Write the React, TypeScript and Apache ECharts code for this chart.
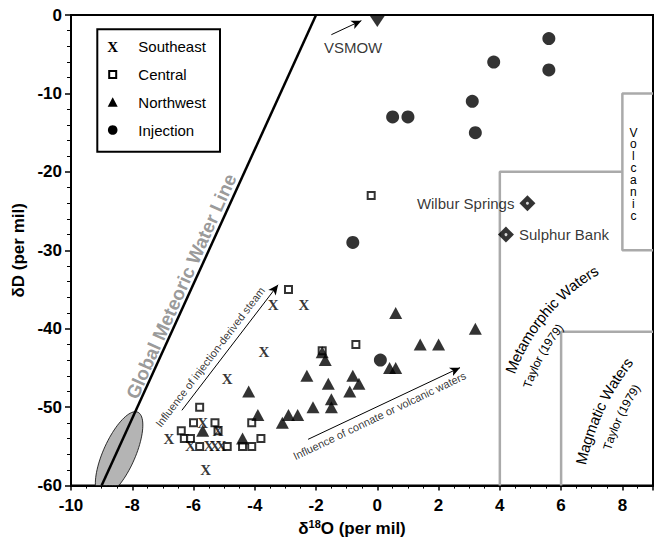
import { useEffect, useRef } from 'react';
import * as echarts from 'echarts';

// ---- data (delta18O, deltaD) ----
const southeast: number[][] = [
  [-3.4, -37], [-2.4, -37], [-3.7, -43], [-4.9, -46.4], [-5.7, -52], [-5.2, -53],
  [-6.8, -54], [-6.1, -55], [-5.5, -55], [-5.3, -55], [-5.1, -55], [-5.6, -58],
];
const central: number[][] = [
  [-2.9, -35], [-0.2, -23], [-0.7, -42], [-1.8, -42.8], [-5.8, -50], [-6.0, -52],
  [-5.3, -52], [-4.1, -52], [-5.2, -53], [-6.4, -53], [-6.3, -54], [-6.1, -54],
  [-5.8, -55], [-4.9, -55], [-4.4, -55], [-4.1, -55], [-3.8, -54],
];
const northwest: number[][] = [
  [0.6, -38], [3.2, -40], [1.4, -42], [2.0, -42], [-1.8, -43], [-1.7, -44],
  [-2.3, -46], [-0.8, -46], [-0.6, -47], [-0.9, -48], [-1.6, -47], [0.4, -45],
  [0.6, -45], [-1.5, -49], [-1.5, -50], [-2.1, -50], [-2.9, -51], [-2.6, -51],
  [-3.1, -52], [-4.2, -48], [-3.9, -51], [-5.7, -53], [-4.4, -54],
];
const injection: number[][] = [
  [5.6, -3], [3.8, -6], [5.6, -7], [3.1, -11], [0.5, -13], [1.0, -13],
  [3.2, -15], [-0.8, -29], [0.1, -44],
];
const siteNames = ['Wilbur Springs', 'Sulphur Bank'];
const sitePoints: number[][] = [[4.9, -24], [4.2, -28]];
const vsmowPoint: number[][] = [[0, -0.75]];

// reference lines / fields
const gmwl: number[][] = [[-9, -60], [-2, 0]];
const gmwlEllipseCenter: number[][] = [[-8.43, -56.0]];
const metamorphicBox: number[][] = [[4, -60], [4, -20], [8, -20]];
const volcanicBox: number[][] = [[9, -10], [8, -10], [8, -30], [9, -30]];
const magmaticBox: number[][] = [[6, -60], [6, -40.4], [9, -40.4]];
const arrowSteam: number[][] = [[-6.38, -50.4], [-3.24, -34.4]];
const arrowConnate: number[][] = [[-2.26, -54.1], [2.7, -44.96]];
const arrowVsmow: number[][] = [[-1.5, -2.51], [-0.52, -0.72]];

const legendNames = ['Southeast', 'Central', 'Northwest', 'Injection'];

const FONT = 'Liberation Sans, Arial, Helvetica, sans-serif';
const SERIF = 'Liberation Serif, Times New Roman, serif';

const notes = [
  { text: 'VSMOW', at: [-0.79, -4.2], size: 15, rotate: 0, color: '#000', weight: 'normal' },
  { text: 'Global Meteoric Water Line', at: [-6.4, -34.6], size: 19, rotate: 65.9, color: '#808080', weight: 'bold' },
  { text: 'Influence of injection-derived steam', at: [-5.46, -43.6], size: 11, rotate: 52.7, color: '#000', weight: 'normal' },
  { text: 'Influence of connate or volcanic waters', at: [0.07, -51.1], size: 11, rotate: 25.5, color: '#000', weight: 'normal' },
];

const arcs = [
  { text: 'Metamorphic Waters', center: [10.32, -54.0], r: 195, mid: -140, size: 15 },
  { text: 'Taylor (1979)', center: [10.32, -54.0], r: 174, mid: -151.3, size: 12 },
  { text: 'Magmatic Waters', center: [14.63, -63.7], r: 250, mid: -155, size: 15 },
  { text: 'Taylor (1979)', center: [14.63, -63.7], r: 228, mid: -154.5, size: 12 },
];

export default function App() {
  const ref = useRef<HTMLDivElement>(null);
  useEffect(() => {
    const chart = echarts.init(ref.current!, null, { renderer: 'svg' });
    const grayLine = { color: '#aaaaaa', width: 2.5 };
    const boxSeries = (d: number[][]) => ({
      type: 'line', data: d, symbol: 'none', silent: true, lineStyle: grayLine, z: 1,
    });
    chart.setOption({
      animation: false,
      textStyle: { fontFamily: FONT },
      grid: { left: 71, right: 3, top: 15, bottom: 49, show: true, borderColor: '#000', borderWidth: 2 },
      xAxis: {
        type: 'value', min: -10, max: 9, interval: 2,
        axisLine: { show: true, onZero: false, lineStyle: { color: '#000', width: 2 } },
        axisTick: { show: true, length: 5, lineStyle: { color: '#000', width: 1.5 } },
        minorTick: { show: true, splitNumber: 4, length: 3, lineStyle: { color: '#000', width: 1 } },
        splitLine: { show: false },
        axisLabel: { fontSize: 17, fontWeight: 'bold', color: '#000', fontFamily: FONT, margin: 11, showMaxLabel: false },
        name: '{a|δ}{b|18}{a|O (per mil)}',
        nameLocation: 'middle', nameGap: 31,
        nameTextStyle: {
          padding: [0, 20, 0, 0],
          rich: {
            a: { fontSize: 17, fontWeight: 'bold', color: '#000', fontFamily: FONT, lineHeight: 20 },
            b: { fontSize: 11, fontWeight: 'bold', color: '#000', fontFamily: FONT, verticalAlign: 'top', lineHeight: 13 },
          },
        },
      },
      yAxis: {
        type: 'value', min: -60, max: 0, interval: 10,
        axisLine: { show: true, onZero: false, lineStyle: { color: '#000', width: 2 } },
        axisTick: { show: true, length: 6, lineStyle: { color: '#000', width: 1.5 } },
        minorTick: { show: true, splitNumber: 5, length: 4, lineStyle: { color: '#000', width: 1 } },
        splitLine: { show: false },
        axisLabel: { fontSize: 17, fontWeight: 'bold', color: '#000', fontFamily: FONT, margin: 9 },
        name: 'δD (per mil)', nameLocation: 'middle', nameGap: 31,
        nameTextStyle: { fontSize: 17, fontWeight: 'bold', color: '#000', fontFamily: FONT },
      },
      series: [
        boxSeries(metamorphicBox),
        boxSeries(volcanicBox),
        boxSeries(magmaticBox),
        {
          type: 'custom', data: gmwlEllipseCenter, silent: true, z: 2,
          renderItem: (params: any, api: any) => {
            const c = api.coord([api.value(0), api.value(1)]);
            const cs = params.coordSys;
            const bottom = cs.y + cs.height;
            const a = 46, b = 16, t = (24 * Math.PI) / 180;
            const ux = Math.sin(t), uy = -Math.cos(t), vx = Math.cos(t), vy = Math.sin(t);
            const pts: number[][] = [];
            for (let i = 0; i < 90; i++) {
              const q = (i / 90) * 2 * Math.PI;
              const ca = a * Math.cos(q), sb = b * Math.sin(q);
              pts.push([c[0] + ca * ux + sb * vx, Math.min(bottom, c[1] + ca * uy + sb * vy)]);
            }
            return { type: 'polygon', shape: { points: pts }, style: { fill: '#b4b4b4', stroke: '#000', lineWidth: 0.8 } };
          },
        },
        {
          type: 'line', data: gmwl, symbol: 'none', silent: true, z: 3,
          lineStyle: { color: '#000', width: 2.5 },
          markLine: {
            silent: true, symbol: ['none', 'arrow'], symbolSize: [7, 10],
            label: { show: false },
            lineStyle: { color: '#000', width: 1, type: 'solid' },
            data: [arrowSteam, arrowConnate, arrowVsmow].map((a) => [{ coord: a[0] }, { coord: a[1] }]),
          },
        },
        {
          type: 'scatter', data: central, symbol: 'rect', symbolSize: 7, silent: true, z: 4,
          itemStyle: { color: '#fff', borderColor: '#000', borderWidth: 2 },
        },
        {
          type: 'scatter', data: southeast, symbol: 'rect', symbolSize: 1, silent: true, z: 5,
          itemStyle: { color: 'rgba(0,0,0,0)' },
          label: { show: true, formatter: 'X', position: 'inside', fontFamily: SERIF, fontWeight: 'bold', fontSize: 15, color: '#000' },
        },
        {
          type: 'scatter', data: northwest, symbol: 'triangle', symbolSize: [13, 12], silent: true, z: 6,
          itemStyle: { color: '#000' },
        },
        {
          type: 'scatter', data: injection, symbol: 'circle', symbolSize: 13, silent: true, z: 6,
          itemStyle: { color: '#000' },
        },
        {
          type: 'scatter', silent: true, z: 6, symbol: 'diamond', symbolSize: 16,
          itemStyle: { color: '#000' },
          data: sitePoints.map((p, i) => ({
            value: p, name: siteNames[i],
            label: {
              show: true, formatter: '{b}', position: i === 0 ? 'left' : 'right', distance: 5,
              fontSize: 15, color: '#000', fontFamily: FONT,
            },
          })),
        },
        {
          type: 'scatter', data: sitePoints, symbol: 'circle', symbolSize: 3, silent: true, z: 7,
          itemStyle: { color: '#fff' },
        },
        {
          type: 'scatter', data: vsmowPoint, symbol: 'triangle', symbolRotate: 180, symbolSize: [16, 12],
          silent: true, z: 7, itemStyle: { color: '#000' },
        },
        {
          type: 'scatter', symbolSize: 1, silent: true, z: 8, itemStyle: { color: 'rgba(0,0,0,0)' },
          data: notes.map((n) => ({
            value: n.at,
            label: {
              show: true, formatter: n.text, position: 'inside', rotate: n.rotate,
              fontSize: n.size, color: n.color, fontWeight: n.weight, fontFamily: FONT,
            },
          })),
        },
      ],
    });

    // ---- graphics: legend, curved field labels, "Volcanic" ----
    const px = (p: number[]) => chart.convertToPixel({ gridIndex: 0 }, p) as number[];
    const ctx = document.createElement('canvas').getContext('2d')!;
    const gfx: any[] = [];

    arcs.forEach((arc) => {
      const c = px(arc.center);
      ctx.font = `${arc.size}px "Liberation Sans"`;
      const chars = Array.from(arc.text);
      const widths = chars.map((ch) => ctx.measureText(ch).width);
      const total = widths.reduce((s, w) => s + w, 0);
      const phiMid = (arc.mid * Math.PI) / 180;
      let acc = 0;
      chars.forEach((ch, i) => {
        const s = acc + widths[i] / 2;
        acc += widths[i];
        if (ch === ' ') return;
        const phi = phiMid + (s - total / 2) / arc.r;
        gfx.push({
          type: 'text', silent: true, z: 10,
          x: c[0] + arc.r * Math.cos(phi), y: c[1] + arc.r * Math.sin(phi),
          rotation: -(phi + Math.PI / 2),
          style: {
            text: ch, fill: '#000', fontSize: arc.size, fontFamily: FONT,
            align: 'center', verticalAlign: 'middle', textAlign: 'center', textVerticalAlign: 'middle',
          },
        });
      });
    });

    // stacked "Volcanic" letters
    const vp = px([8.36, -20.3]);
    const vLetters = Array.from('Volcanic');
    vLetters.forEach((ch, i) => {
      gfx.push({
        type: 'text', silent: true, z: 10, x: vp[0], y: vp[1] + (i - (vLetters.length - 1) / 2) * 11.9,
        style: {
          text: ch, fill: '#000', fontSize: 12, lineHeight: 11, fontFamily: FONT,
          align: 'center', verticalAlign: 'middle', textAlign: 'center', textVerticalAlign: 'middle',
        },
      });
    });

    // legend
    const lx = 112.7, tx = 138.3;
    const rows = [46.7, 74.5, 102.3, 130];
    gfx.push({
      type: 'rect', silent: true, z: 20,
      shape: { x: 97.3, y: 29.3, width: 122.7, height: 122.4 },
      style: { fill: '#fff', stroke: '#000', lineWidth: 2 },
    });
    gfx.push({
      type: 'text', silent: true, z: 21, x: lx, y: rows[0],
      style: { text: 'X', fill: '#000', fontSize: 15, fontWeight: 'bold', fontFamily: SERIF, align: 'center', verticalAlign: 'middle', textAlign: 'center', textVerticalAlign: 'middle' },
    });
    gfx.push({
      type: 'rect', silent: true, z: 21,
      shape: { x: lx - 3.5, y: rows[1] - 3.5, width: 7, height: 7 },
      style: { fill: '#fff', stroke: '#000', lineWidth: 2 },
    });
    gfx.push({
      type: 'polygon', silent: true, z: 21,
      shape: { points: [[lx - 5, rows[2] + 4.5], [lx + 5, rows[2] + 4.5], [lx, rows[2] - 5]] },
      style: { fill: '#000' },
    });
    gfx.push({
      type: 'circle', silent: true, z: 21,
      shape: { cx: lx, cy: rows[3], r: 4.8 },
      style: { fill: '#000' },
    });
    legendNames.forEach((n, i) => {
      gfx.push({
        type: 'text', silent: true, z: 21, x: tx, y: rows[i],
        style: { text: n, fill: '#000', fontSize: 15, fontFamily: FONT, align: 'left', verticalAlign: 'middle', textAlign: 'left', textVerticalAlign: 'middle' },
      });
    });

    chart.setOption({ graphic: gfx });
    return () => chart.dispose();
  }, []);
  return <div ref={ref} style={{ position: 'absolute', left: 0, top: 0, width: 656, height: 542 }} />;
}
